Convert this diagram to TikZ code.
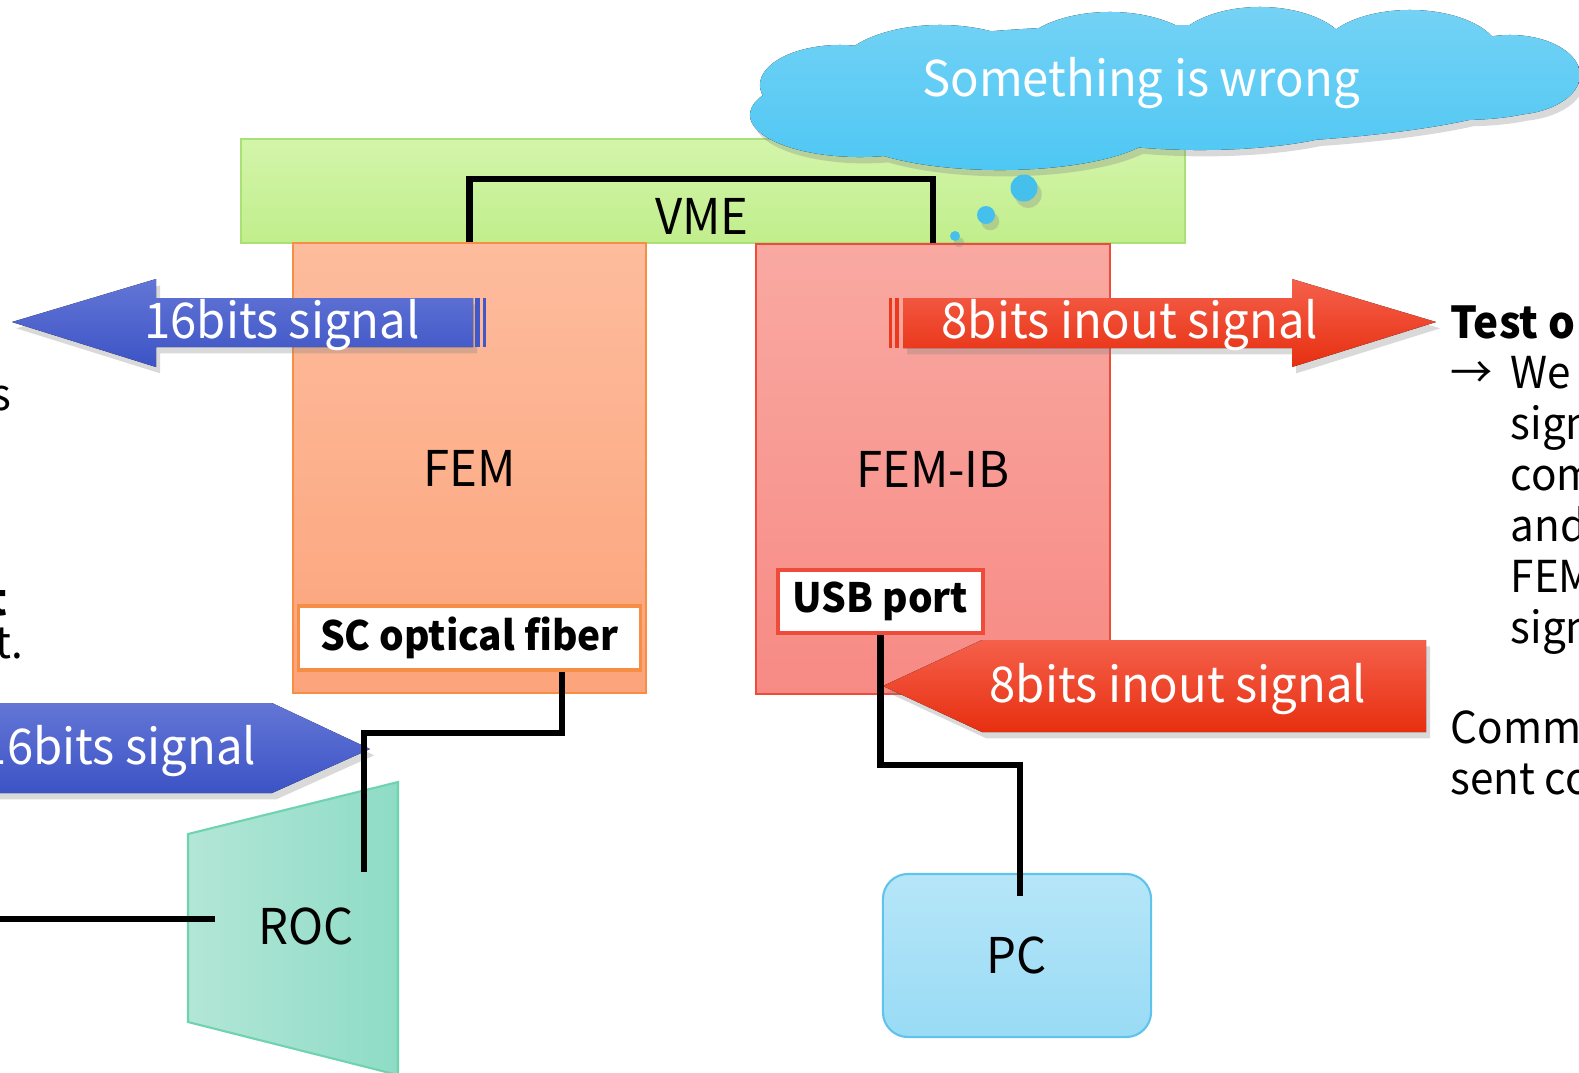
\documentclass[tikz,border=0pt]{standalone}
\usepackage{fontspec}
\setmainfont{Noto Sans CJK JP}[FakeStretch=0.96]
\usetikzlibrary{positioning,arrows.meta,calc,shadows}

\definecolor{vmetop}{HTML}{D3F5AA}
\definecolor{vmebot}{HTML}{C1EE8C}
\definecolor{vmeedge}{HTML}{A9E176}
\definecolor{femtop}{HTML}{FDBC9D}
\definecolor{fembot}{HTML}{FCA47B}
\definecolor{femedge}{HTML}{F68E45}
\definecolor{ibtop}{HTML}{F9A9A2}
\definecolor{ibbot}{HTML}{F78A84}
\definecolor{ibedge}{HTML}{EE4B3A}
\definecolor{bluetop}{HTML}{6376D6}
\definecolor{bluebot}{HTML}{3C53C5}
\definecolor{redtop}{HTML}{F5604B}
\definecolor{redbot}{HTML}{E72F10}
\definecolor{rocleftc}{HTML}{B3E6D7}
\definecolor{rocrightc}{HTML}{8EDCC6}
\definecolor{rocedge}{HTML}{6FD3B0}
\definecolor{pctop}{HTML}{B6E6F8}
\definecolor{pcbot}{HTML}{99DBF5}
\definecolor{pcedge}{HTML}{5FC3EC}
\definecolor{cloudtop}{HTML}{74D2F5}
\definecolor{cloudbot}{HTML}{4EC7F4}
\definecolor{bubble}{HTML}{45C0EC}

\begin{document}
\begin{tikzpicture}[
    x=0.01cm, y=-0.01cm,
    board/.style={draw, line width=0.6pt, inner sep=0pt, font=\fontsize{14}{16}\selectfont},
    port/.style={draw, line width=0.9pt, fill=white, inner sep=0pt, font=\bfseries\fontsize{11.5}{13}\selectfont},
    wire/.style={line width=1.9pt},
    boardtext/.style={inner sep=0pt, font=\fontsize{14}{16}\selectfont},
    sig/.style={inner sep=0pt, text=white, font=\fontsize{14}{16}\selectfont},
    note/.style={inner sep=0pt, anchor=base west, font=\fontsize{12.5}{15}\selectfont},
    lifted/.style={drop shadow={shadow xshift=1.2pt, shadow yshift=-1.8pt, opacity=0.3}}
  ]
    \useasboundingbox (0,0) rectangle (1579,1072);

    % crate and boards
    \node[board, draw=vmeedge, top color=vmetop, bottom color=vmebot, minimum width=9.44cm, minimum height=1.04cm] (vme) at (713,191) {};
    \node[boardtext] (vmetxt) at (702,216) {VME};
    \node[board, draw=femedge, top color=femtop, bottom color=fembot, minimum width=3.53cm, minimum height=4.5cm] (fem) at (469.5,468) {FEM};
    \node[board, draw=ibedge, top color=ibtop, bottom color=ibbot, minimum width=3.54cm, minimum height=4.5cm] (femib) at (933,469) {FEM-IB};
    \node[port, draw=femedge, minimum width=3.41cm, minimum height=0.64cm] (scfiber) at (469.5,638) {SC optical fiber};
    \node[port, draw=ibedge, minimum width=2.05cm, minimum height=0.63cm] (usb) at (880.5,601.5) {USB port};

    \draw[wire] (fem.north) |- ($(vme.north)+(0,41)$) -| (femib.north);

    % thought cloud
    \fill[top color=cloudtop, bottom color=cloudbot, lifted]
      (1160,85) ellipse [x radius=3.8cm, y radius=0.6cm]
      (840,85) ellipse [x radius=0.8cm, y radius=0.4cm]
      (940,75) ellipse [x radius=1.05cm, y radius=0.5cm]
      (1110,60) ellipse [x radius=0.95cm, y radius=0.48cm]
      (1260,55) ellipse [x radius=0.9cm, y radius=0.48cm]
      (1410,55) ellipse [x radius=0.9cm, y radius=0.45cm]
      (1510,75) ellipse [x radius=0.7cm, y radius=0.4cm]
      (1460,100) ellipse [x radius=0.9cm, y radius=0.2cm]
      (1200,112) ellipse [x radius=1.7cm, y radius=0.38cm]
      (1000,125) ellipse [x radius=1.6cm, y radius=0.45cm]
      (860,115) ellipse [x radius=1.1cm, y radius=0.42cm]
      (805,108) ellipse [x radius=0.45cm, y radius=0.29cm];
    \node[sig] (wrong) at (1141,83) {Something is wrong};
    \fill[bubble, lifted] (1024,188) circle [radius=0.135cm];
    \fill[bubble, lifted] (986,215) circle [radius=0.09cm];
    \fill[bubble, lifted] (955,236) circle [radius=0.05cm];

    % readout chip and PC
    \filldraw[draw=rocedge, line width=0.6pt, left color=rocleftc, right color=rocrightc] (188,834) -- (398,782) -- (398,1075) -- (188,1022) -- cycle;
    \node[boardtext] (roc) at (306,926) {ROC};
    \node[board, draw=pcedge, top color=pctop, bottom color=pcbot, rounded corners=0.25cm, minimum width=2.68cm, minimum height=1.63cm] (pc) at (1017,955.5) {PC};

    % signal arrows
    \fill[top color=bluetop, bottom color=bluebot, lifted] (12,322) -- (156,279) -- (156,298) -- (473,298) -- (473,347) -- (156,347) -- (156,367) -- cycle;
    \fill[bluebot!85!bluetop] (475,298) rectangle (480,347);
    \fill[bluebot!85!bluetop] (483,298) rectangle (486,347);
    \node[sig, anchor=base] (sigup) at (282,338) {16bits signal};

    \fill[top color=redtop, bottom color=redbot, lifted] (1436,322) -- (1292,279) -- (1292,298) -- (903,298) -- (903,348) -- (1292,348) -- (1292,367) -- cycle;
    \fill[redbot!80!redtop] (889,298) rectangle (892,348);
    \fill[redbot!80!redtop] (895,298) rectangle (899,348);
    \node[sig, anchor=base] (sigout) at (1130,338) {8bits inout signal};

    \fill[top color=bluetop, bottom color=bluebot, lifted] (-20,703) -- (272,703) -- (370,749) -- (272,793) -- (-20,793) -- cycle;
    \node[sig, anchor=base east] (sigdown) at (257,764) {16bits signal};

    \fill[top color=redtop, bottom color=redbot, lifted] (1426,640) -- (982,640) -- (883,686) -- (982,732) -- (1426,732) -- cycle;
    \node[sig, anchor=base] (sigin) at (1178,702) {8bits inout signal};

    % cables
    \coordinate (fibrebend) at (364,733);
    \coordinate (rocin) at (364,872);
    \coordinate (rocleft) at (215,919);
    \coordinate (leftend) at (-10,919);
    \coordinate (pcin) at (1020,896);
    \draw[wire] ($(scfiber.south)+(92.5,0)$) |- (fibrebend) -- (rocin);
    \draw[wire] (leftend) -- (rocleft);
    \draw[wire] (usb.south) |- (1020,765) -- (pcin);

    % side notes
    \node[note, anchor=base east] (lefta) at (12,410) {s};
    \node[note, anchor=base east, font=\bfseries\fontsize{12.5}{15}\selectfont] (leftb) at (8,615) {t};
    \node[note, anchor=base east] (leftc) at (24,658) {t.};
    \node[note, font=\bfseries\fontsize{12.5}{15}\selectfont] (testhead) at (1450,338) {Test o};
    \node[note] (testarr) at (1450,388) {→};
    \node[note] (testa) at (1510,388) {We};
    \node[note] (testb) at (1510,439) {sign};
    \node[note] (testc) at (1510,490) {com};
    \node[note] (testd) at (1510,541) {and};
    \node[note] (teste) at (1510,592) {FEM};
    \node[note] (testf) at (1510,643) {sign};
    \node[note] (cmda) at (1450,743) {Comma};
    \node[note] (cmdb) at (1450,794) {sent co};
\end{tikzpicture}
\end{document}
